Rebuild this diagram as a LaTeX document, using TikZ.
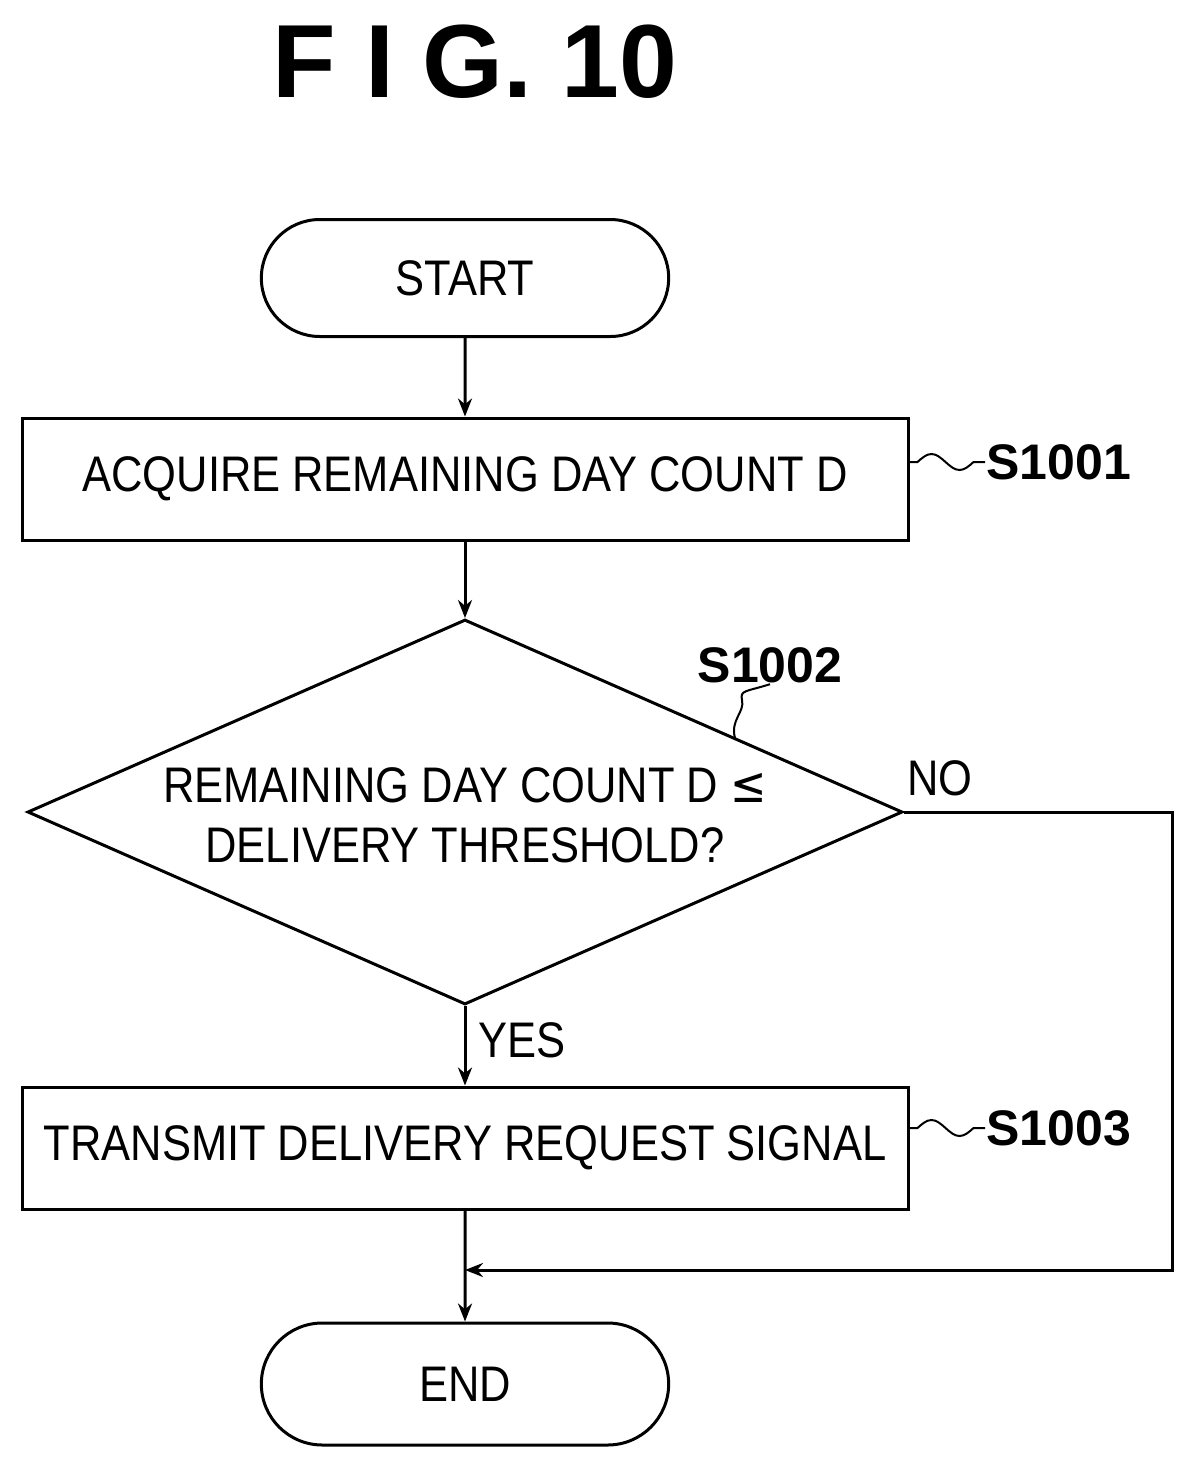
\documentclass[tikz,border=0pt]{standalone}
\usepackage{fontspec}
\setmainfont{Liberation Sans}
\newfontfamily\narrowf[FakeStretch=0.87]{Liberation Sans}
\newfontfamily\symf[FakeStretch=0.87]{DejaVu Sans}
\usetikzlibrary{shapes.geometric,shapes.misc,arrows.meta}
\begin{document}
\begin{tikzpicture}[x=1pt,y=1pt,
  line width=3pt,
  box/.style={draw,rectangle,minimum width=886pt,minimum height=122pt,inner sep=0pt,font=\narrowf\fontsize{50}{60}\selectfont},
  term/.style={draw,rounded rectangle,minimum width=414pt,minimum height=117pt,font=\narrowf\fontsize{50}{60}\selectfont},
  lab/.style={font=\bfseries\fontsize{50}{60}\selectfont,inner sep=0pt},
  arr/.style={-{Stealth[length=18pt,width=14pt]}},
  wav/.style={line width=2pt}]
\useasboundingbox (0,0) rectangle (1195,-1468);
\node[font=\bfseries\fontsize{104}{110}\selectfont] (title) at (475,-62) {F I G. 10};
\node[term] (start) at (465,-278) {START};
\node[box] (b1) at (465,-479) {ACQUIRE REMAINING DAY COUNT D};
\node[draw,diamond,aspect=2.28,minimum width=875pt,minimum height=385pt,inner sep=0pt] (dec) at (465,-812) {};
\node[align=center,font=\narrowf\fontsize{50}{60}\selectfont] (dtext) at (465,-815) {REMAINING DAY COUNT D {\symf ≤}\\DELIVERY THRESHOLD?};
\node[box] (b2) at (465,-1148) {TRANSMIT DELIVERY REQUEST SIGNAL};
\node[term,minimum height=122pt] (end) at (465,-1384) {END};
\node[lab,anchor=west] (s1) at (985,-462) {S1001};
\node[lab,anchor=west] (s3) at (985,-1128) {S1003};
\node[lab] (s2) at (770,-665) {S1002};
\node[font=\narrowf\fontsize{50}{60}\selectfont] (no) at (940,-778) {NO};
\node[font=\narrowf\fontsize{50}{60}\selectfont] (yes) at (522,-1040) {YES};
\coordinate (c1) at (1172,-812);
\coordinate (c2) at (1172,-1270);
\coordinate (m) at (465,-1270);
\coordinate (w2) at (735,-738);
\draw[arr] (start) -- (b1);
\draw[arr] (b1) -- (dec.north);
\draw[arr] (dec.south) -- (b2);
\draw[arr] (b2) -- (end);
\draw[arr] (dec.east) -- (c1) -- (c2) -- (m);
\draw[wav] (b1.east |- s1.west) -- ++(8,0) sin ++(14,8) cos ++(14,-8) sin ++(14,-8) cos ++(14,8) -- (s1.west);
\draw[wav] (b2.east |- s3.west) -- ++(8,0) sin ++(14,8) cos ++(14,-8) sin ++(14,-8) cos ++(14,8) -- (s3.west);
\draw[wav] (w2) .. controls (730,-720) and (745,-712) .. (742,-700) .. controls (740,-690) and (745,-692) .. (s2.south);
\end{tikzpicture}
\end{document}
